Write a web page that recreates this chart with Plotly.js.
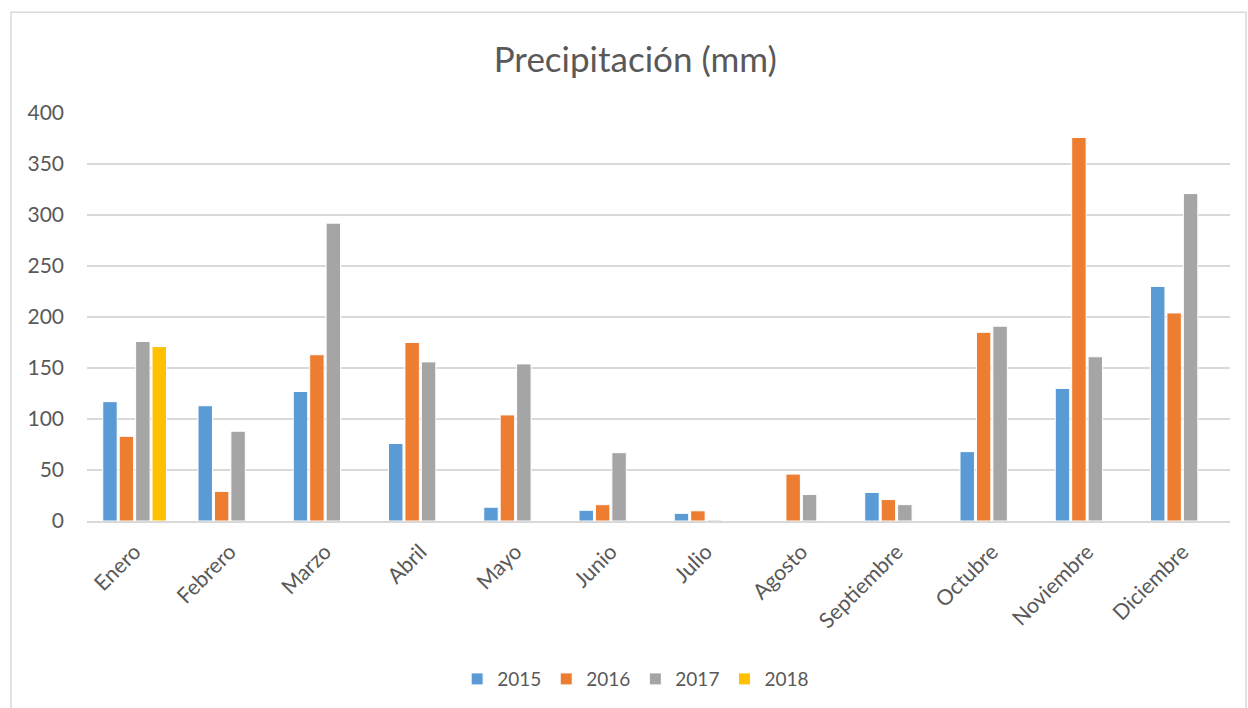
<!DOCTYPE html>
<html>
<head>
<meta charset="utf-8">
<script src="https://cdn.plot.ly/plotly-3.0.1.min.js"></script>
<style>html,body{margin:0;padding:0;background:#fff;}#chart{width:1248px;height:708px;}</style>
</head>
<body>
<div id="chart"></div>
<script>
const months = ["Enero","Febrero","Marzo","Abril","Mayo","Junio","Julio","Agosto","Septiembre","Octubre","Noviembre","Diciembre"];
const years = ["2015","2016","2017","2018"];
const v2015 = [117, 113, 127, 76, 13.5, 10.5, 7.5, 0, 28, 68, 130, 230];
const v2016 = [83, 29, 163, 175, 104, 16, 10, 46, 21, 185, 376, 204];
const v2017 = [176, 88, 292, 156, 154, 67, 1, 26, 16, 191, 161, 321];
const v2018 = [171, null, null, null, null, null, null, null, null, null, null, null];
const colors = ["#5B9BD5", "#ED7D31", "#A5A5A5", "#FFC000"];
const series = [v2015, v2016, v2017, v2018];

const font = "Lato, 'Open Sans', sans-serif";
const data = series.map((vals, i) => ({
  type: "bar",
  name: years[i],
  x: months,
  y: vals,
  marker: {color: colors[i], line: {color: "#ffffff", width: 1}},
  hoverinfo: "x+y+name"
}));

const layout = {
  width: 1248, height: 708,
  margin: {l: 87, r: 18, t: 113, b: 186},
  paper_bgcolor: "#ffffff", plot_bgcolor: "#ffffff",
  title: {text: "Precipitación (mm)", font: {family: font, size: 35, color: "#595959"}, x: 0.509, xanchor: "center", y: 0.915, yanchor: "middle"},
  barmode: "group",
  bargap: 0.31,
  bargroupgap: 0.12,
  xaxis: {
    tickangle: -45,
    tickfont: {family: font, size: 21.5, color: "#595959"},
    showline: true, linecolor: "#d9d9d9", linewidth: 1.5,
    ticks: "", showgrid: false,
    ticklabelstandoff: 8
  },
  yaxis: {
    range: [0, 400], dtick: 50,
    tickfont: {family: font, size: 21, color: "#595959"},
    gridcolor: "#d9d9d9", gridwidth: 1.5,
    zeroline: false, showline: false, ticks: "",
    ticklabelstandoff: 22
  },
  showlegend: true,
  legend: {orientation: "h", x: 0.480, xanchor: "center", y: -0.384, yanchor: "middle",
    font: {family: font, size: 19, color: "#595959"}, itemwidth: 30, traceorder: "normal"},
  shapes: [{type: "rect", xref: "paper", yref: "paper", x0: -0.0665, x1: 1.014, y0: -0.47, y1: 1.247,
    line: {color: "#d9d9d9", width: 1.5}, fillcolor: "rgba(0,0,0,0)", layer: "below"}]
};

Plotly.newPlot("chart", data, layout, {displayModeBar: false, responsive: false});
</script>
</body>
</html>
